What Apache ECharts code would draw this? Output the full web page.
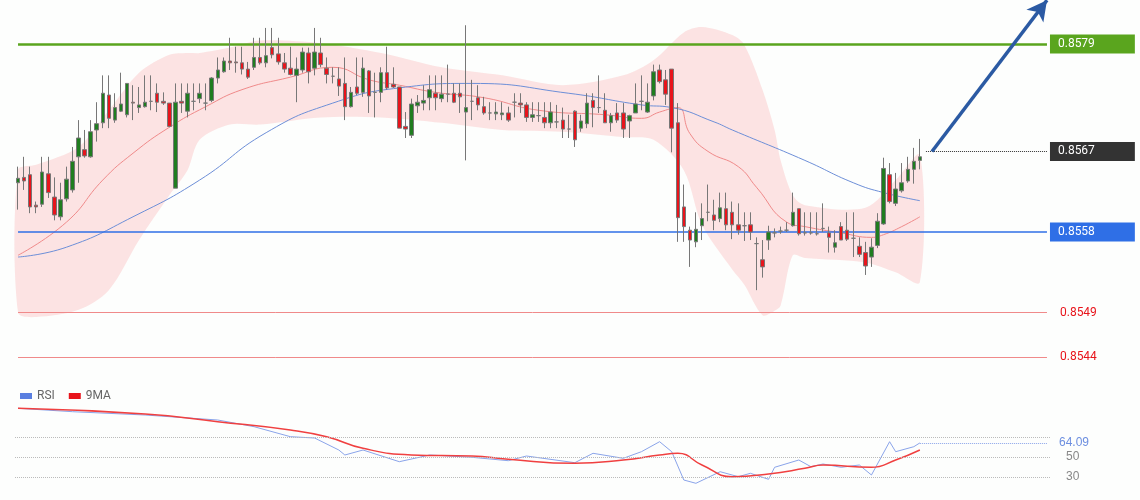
<!DOCTYPE html>
<html><head><meta charset="utf-8">
<script src="https://cdn.jsdelivr.net/npm/echarts@6/dist/echarts.min.js"></script>
<style>html,body{margin:0;padding:0;background:#fdfefd}#c{width:1140px;height:500px}</style>
</head><body><div id="c"></div>
<script>
// [open, close, low, high]
const candles = [
[0.85635,0.85640,0.85605,0.85653],[0.85641,0.85637,0.85627,0.85664],[0.85644,0.85608,0.85601,0.85653],[0.85610,0.85608,0.85601,0.85614],
[0.85611,0.85647,0.85608,0.85664],[0.85645,0.85624,0.85618,0.85664],[0.85619,0.85599,0.85593,0.85641],[0.85597,0.85616,0.85593,0.85635],
[0.85617,0.85639,0.85614,0.85653],[0.85627,0.85659,0.85624,0.85675],[0.85664,0.85685,0.85635,0.85705],[0.85672,0.85665,0.85663,0.85694],
[0.85664,0.85692,0.85663,0.85705],[0.85694,0.85701,0.85681,0.85725],[0.85702,0.85735,0.85696,0.85755],[0.85733,0.85707,0.85696,0.85755],
[0.85705,0.85719,0.85702,0.85735],[0.85715,0.85723,0.85714,0.85758],[0.85711,0.85746,0.85708,0.85746],[0.85725,0.85724,0.85705,0.85744],
[0.85719,0.85722,0.85713,0.85742],[0.85720,0.85725,0.85719,0.85755],[0.85726,0.85726,0.85716,0.85755],[0.85735,0.85725,0.85714,0.85746],
[0.85726,0.85724,0.85722,0.85736],[0.85724,0.85698,0.85697,0.85724],[0.85629,0.85725,0.85629,0.85746],[0.85726,0.85724,0.85713,0.85746],
[0.85715,0.85735,0.85708,0.85746],[0.85726,0.85726,0.85716,0.85746],[0.85729,0.85735,0.85724,0.85746],[0.85724,0.85724,0.85716,0.85746],
[0.85727,0.85752,0.85725,0.85753],[0.85752,0.85761,0.85746,0.85775],[0.85759,0.85771,0.85758,0.85775],[0.85771,0.85769,0.85761,0.85797],
[0.85770,0.85769,0.85758,0.85787],[0.85769,0.85762,0.85756,0.85787],[0.85762,0.85753,0.85751,0.85770],[0.85764,0.85775,0.85761,0.85797],
[0.85775,0.85769,0.85767,0.85797],[0.85769,0.85777,0.85764,0.85808],[0.85786,0.85778,0.85774,0.85808],[0.85779,0.85770,0.85767,0.85797],
[0.85769,0.85762,0.85758,0.85780],[0.85763,0.85756,0.85755,0.85787],[0.85755,0.85762,0.85725,0.85775],[0.85761,0.85781,0.85758,0.85786],
[0.85780,0.85759,0.85746,0.85786],[0.85763,0.85781,0.85755,0.85808],[0.85780,0.85767,0.85764,0.85797],[0.85763,0.85756,0.85746,0.85775],
[0.85754,0.85754,0.85746,0.85764],[0.85751,0.85743,0.85732,0.85764],[0.85746,0.85720,0.85705,0.85775],[0.85720,0.85736,0.85719,0.85742],
[0.85742,0.85735,0.85733,0.85775],[0.85736,0.85763,0.85731,0.85775],[0.85760,0.85732,0.85713,0.85761],[0.85736,0.85736,0.85708,0.85758],
[0.85736,0.85758,0.85725,0.85764],[0.85758,0.85741,0.85739,0.85787],[0.85745,0.85742,0.85741,0.85764],[0.85742,0.85696,0.85696,0.85742],
[0.85698,0.85695,0.85685,0.85714],[0.85688,0.85723,0.85685,0.85729],[0.85721,0.85725,0.85713,0.85733],[0.85724,0.85727,0.85716,0.85744],
[0.85730,0.85739,0.85716,0.85755],[0.85735,0.85730,0.85716,0.85755],[0.85729,0.85734,0.85725,0.85755],[0.85734,0.85734,0.85725,0.85767],
[0.85735,0.85725,0.85724,0.85746],[0.85735,0.85731,0.85713,0.85746],[0.85714,0.85719,0.85660,0.85811],
[0.85726,0.85726,0.85705,0.85750],[0.85730,0.85722,0.85716,0.85744],[0.85720,0.85713,0.85711,0.85731],[0.85713,0.85713,0.85705,0.85725],
[0.85712,0.85714,0.85705,0.85725],[0.85711,0.85713,0.85705,0.85725],[0.85713,0.85705,0.85703,0.85720],[0.85725,0.85725,0.85708,0.85735],
[0.85724,0.85722,0.85713,0.85735],[0.85722,0.85708,0.85703,0.85725],[0.85708,0.85711,0.85703,0.85725],[0.85710,0.85710,0.85703,0.85725],
[0.85708,0.85702,0.85696,0.85725],[0.85702,0.85714,0.85696,0.85725],[0.85703,0.85703,0.85696,0.85722],[0.85705,0.85695,0.85685,0.85719],
[0.85695,0.85695,0.85685,0.85711],[0.85715,0.85683,0.85675,0.85716],[0.85696,0.85704,0.85692,0.85711],[0.85701,0.85724,0.85696,0.85735],
[0.85727,0.85719,0.85697,0.85735],[0.85719,0.85719,0.85713,0.85755],[0.85716,0.85702,0.85702,0.85735],[0.85702,0.85710,0.85692,0.85713],
[0.85713,0.85705,0.85702,0.85724],[0.85713,0.85695,0.85685,0.85724],[0.85704,0.85710,0.85685,0.85711],[0.85713,0.85723,0.85713,0.85746],
[0.85726,0.85726,0.85716,0.85755],[0.85714,0.85725,0.85713,0.85746],[0.85732,0.85759,0.85727,0.85767],[0.85761,0.85748,0.85746,0.85767],
[0.85750,0.85734,0.85722,0.85761],[0.85762,0.85696,0.85669,0.85762],[0.85702,0.85596,0.85569,0.85724],[0.85608,0.85586,0.85569,0.85633],
[0.85582,0.85571,0.85541,0.85586],[0.85569,0.85583,0.85563,0.85602],
[0.85587,0.85595,0.85571,0.85612],[0.85602,0.85602,0.85592,0.85633],[0.85599,0.85593,0.85582,0.85616],[0.85595,0.85607,0.85591,0.85624],
[0.85606,0.85588,0.85582,0.85624],[0.85602,0.85588,0.85572,0.85614],[0.85588,0.85582,0.85577,0.85612],[0.85587,0.85587,0.85570,0.85602],
[0.85588,0.85580,0.85571,0.85602],[0.85567,0.85567,0.85515,0.85574],[0.85549,0.85541,0.85529,0.85571],[0.85571,0.85580,0.85560,0.85587],
[0.85579,0.85579,0.85574,0.85584],[0.85581,0.85581,0.85578,0.85586],[0.85582,0.85582,0.85580,0.85591],[0.85587,0.85602,0.85586,0.85624],
[0.85606,0.85578,0.85576,0.85606],[0.85579,0.85579,0.85576,0.85602],[0.85579,0.85579,0.85577,0.85602],[0.85578,0.85578,0.85576,0.85602],
[0.85584,0.85584,0.85580,0.85612],[0.85579,0.85574,0.85557,0.85586],[0.85563,0.85568,0.85557,0.85582],[0.85586,0.85571,0.85571,0.85591],
[0.85582,0.85572,0.85570,0.85602],[0.85573,0.85573,0.85552,0.85602],[0.85564,0.85555,0.85552,0.85574],[0.85557,0.85542,0.85532,0.85569],
[0.85552,0.85563,0.85541,0.85573],[0.85565,0.85592,0.85562,0.85601],[0.85589,0.85651,0.85588,0.85663],[0.85644,0.85614,0.85612,0.85657],
[0.85612,0.85628,0.85609,0.85646],[0.85626,0.85635,0.85624,0.85657],[0.85637,0.85650,0.85635,0.85664],[0.85650,0.85659,0.85634,0.85674],
[0.85660,0.85664,0.85650,0.85684]
];
const slots = 171;
const categories = Array.from({length: slots}, (_, i) => String(i + 1));

const bandIdx   = [0,3,10,15,20,25,28,30,35,40,50,60,70,80,90,100,105,110,113,118,120,123,125,126,128,130,140,145,149];
const bandUpper = [0.85649,0.85655,0.85675,0.85716,0.85758,0.85778,0.85780,0.85780,0.85786,0.85794,0.85791,0.85780,0.85764,0.85755,0.85744,0.85755,0.85772,0.85803,0.85809,0.85800,0.85789,0.85739,0.85694,0.85660,0.85621,0.85610,0.85607,0.85638,0.85666];
const bandLower = [0.85490,0.85485,0.85493,0.85515,0.85571,0.85621,0.85649,0.85683,0.85700,0.85700,0.85708,0.85708,0.85702,0.85694,0.85692,0.85686,0.85683,0.85649,0.85588,0.85538,0.85521,0.85487,0.85492,0.85498,0.85554,0.85551,0.85546,0.85535,0.85524];
const maFast = [[0,0.85554],[8,0.85591],[14,0.85638],[19,0.85668],[25,0.85697],[31,0.85720],[37,0.85739],[45,0.85753],[52,0.85764],[58,0.85750],[63,0.85744],[69,0.85736],[77,0.85730],[86,0.85716],[97,0.85711],[103,0.85707],[106,0.85714],[109,0.85719],[111,0.85690],[114,0.85670],[119,0.85653],[122,0.85630],[127,0.85591],[130,0.85586],[136,0.85579],[141,0.85574],[143,0.85577],[146,0.85586],[149,0.85597]];
const maSlow = [[0,0.85552],[8,0.85563],[19,0.85597],[30,0.85638],[41,0.85691],[52,0.85724],[63,0.85741],[75,0.85746],[91,0.85735],[103,0.85722],[108,0.85719],[115,0.85703],[118,0.85694],[130,0.85660],[138,0.85635],[143,0.85624],[149,0.85615]];
const rsi = [[0,98.7],[9,95.3],[21,92],[33,87],[39,80.3],[45,70.3],[49,69],[53,57],[54,52],[57,57],[63,45.3],[68,52],[75,49.7],[81,46.3],[84,51],[92,44.3],[95,53.7],[100,48.7],[103,55.3],[106,65.3],[108,55.3],[110,27],[112,23.7],[116,35.3],[119,30.3],[121,33.7],[124,27.7],[125,39.7],[129,47],[131,40.3],[133,43],[136,39.7],[139,42],[141,32],[144,65.3],[145,55.3],[148,60.3],[149,64.09]];
const rsiMA = [[0,98.7],[21,93],[33,85.3],[45,77],[51,70.3],[57,58.7],[65,52],[75,51],[81,47.7],[92,43.7],[100,47],[106,52],[109,53.7],[113,42],[118,30.3],[124,33],[130,38.7],[133,42],[141,39.7],[145,47],[149,57]];
const resistance = 0.8579, pivot = 0.8558, support1 = 0.8549, support2 = 0.8544, lastPrice = 0.8567, lastRsi = 64.09;
const arrowPath = [[151, 0.8567], [169.5, 0.85839]];

const chart = echarts.init(document.getElementById('c'));
const lblBox = (bg, txt) => ({show:true, position:'end', distance:3, backgroundColor:bg, color:'#fff', padding:[4,40,3,8], fontSize:12, fontFamily:'Roboto, sans-serif', formatter: txt});
const lblRed = txt => ({show:true, position:'end', distance:13, color:'#e8141b', fontSize:12, fontFamily:'Roboto, sans-serif', formatter: txt});
const hLine = (v, color, width, type, label) => [{coord:[0, v], lineStyle:{color, width, type}, label}, {coord:[170, v]}];
chart.setOption({
  animation:false,
  backgroundColor:'#fdfefd',
  grid:[{left:15, right:90, top:0, height:370}, {left:15, right:90, top:397, height:100}],
  legend:{left:15, top:385, itemWidth:12, itemHeight:6, icon:'rect', itemGap:14,
    textStyle:{color:'#666', fontSize:12, fontFamily:'Roboto, sans-serif'},
    data:[{name:'RSI', itemStyle:{color:'#5a7fe0'}}, {name:'9MA', itemStyle:{color:'#e8141b'}}]},
  xAxis:[
    {type:'category', data:categories, gridIndex:0, show:false, boundaryGap:true},
    {type:'category', data:categories, gridIndex:1, show:false, boundaryGap:true}],
  yAxis:[
    {type:'value', gridIndex:0, min:0.854258, max:0.858392, show:false},
    {type:'value', gridIndex:1, min:10, max:110, interval:20, position:'right',
      axisLine:{show:false}, axisTick:{show:false}, splitLine:{show:false},
      axisLabel:{show:true, color:'#888', fontSize:12, margin:16, formatter: v => (v===50||v===30) ? String(v) : ''}}],
  series:[
    {type:'custom', xAxisIndex:0, yAxisIndex:0, data:[[0, bandUpper[0]]], z:1, silent:true,
      renderItem:(params, api) => {
        const pts = bandIdx.map((i,k) => api.coord([i, bandUpper[k]]));
        for (let k = bandIdx.length - 1; k >= 0; k--) pts.push(api.coord([bandIdx[k], bandLower[k]]));
        return {type:'polygon', shape:{points:pts, smooth:0.3}, style:{fill:'rgba(250,190,190,0.42)', stroke:'none'}};
      }},
    {type:'line', data:maFast, smooth:true, symbol:'none', z:2, lineStyle:{color:'#f08a8a', width:1}},
    {type:'line', data:maSlow, smooth:true, symbol:'none', z:2, lineStyle:{color:'#6d8fd8', width:1}},
    {type:'candlestick', data:candles, barWidth:4, z:5,
      itemStyle:{color:'#1f7d1f', color0:'#e8141b', borderColor:'#777', borderColor0:'#777', borderWidth:1},
      markLine:{symbol:'none', silent:true, z:3, data:[
        hLine(resistance, '#5aa51e', 2.5, 'solid', lblBox('#5aa51e', resistance.toFixed(4))),
        hLine(pivot, '#2f6fe6', 1.5, 'solid', lblBox('#2f6fe6', pivot.toFixed(4))),
        hLine(support1, '#f08a8a', 1, 'solid', lblRed(support1.toFixed(4))),
        hLine(support2, '#f08a8a', 1, 'solid', lblRed(support2.toFixed(4))),
        [{coord:[150, lastPrice], lineStyle:{color:'#333', width:1, type:'dotted'}, label:lblBox('#333', lastPrice.toFixed(4))}, {coord:[170, lastPrice]}],
        [{coord:arrowPath[0], symbol:'none', lineStyle:{color:'#2b5aa3', width:3.5, type:'solid'}, label:{show:false}}, {coord:arrowPath[1], symbol:'arrow', symbolSize:[16,20]}]
      ]}},
    {name:'RSI', type:'line', xAxisIndex:1, yAxisIndex:1, data:rsi, symbol:'none', lineStyle:{color:'#8aa4ea', width:1},
      markLine:{symbol:'none', silent:true, data:[
        {yAxis:70, lineStyle:{color:'#bbb', type:'dotted', width:1}, label:{show:false}},
        {yAxis:50, lineStyle:{color:'#bbb', type:'dotted', width:1}, label:{show:false}},
        {yAxis:30, lineStyle:{color:'#bbb', type:'dotted', width:1}, label:{show:false}},
        [{coord:[149,lastRsi], lineStyle:{color:'#8aa4ea', type:'dotted', width:1}, label:{show:true, position:'end', distance:12, color:'#6d8fe0', fontSize:12, formatter:String(lastRsi)}}, {coord:[170,lastRsi]}]
      ]}},
    {name:'9MA', type:'line', xAxisIndex:1, yAxisIndex:1, data:rsiMA, smooth:true, symbol:'none', lineStyle:{color:'#f04040', width:1.5}}
  ]
});
</script></body></html>
